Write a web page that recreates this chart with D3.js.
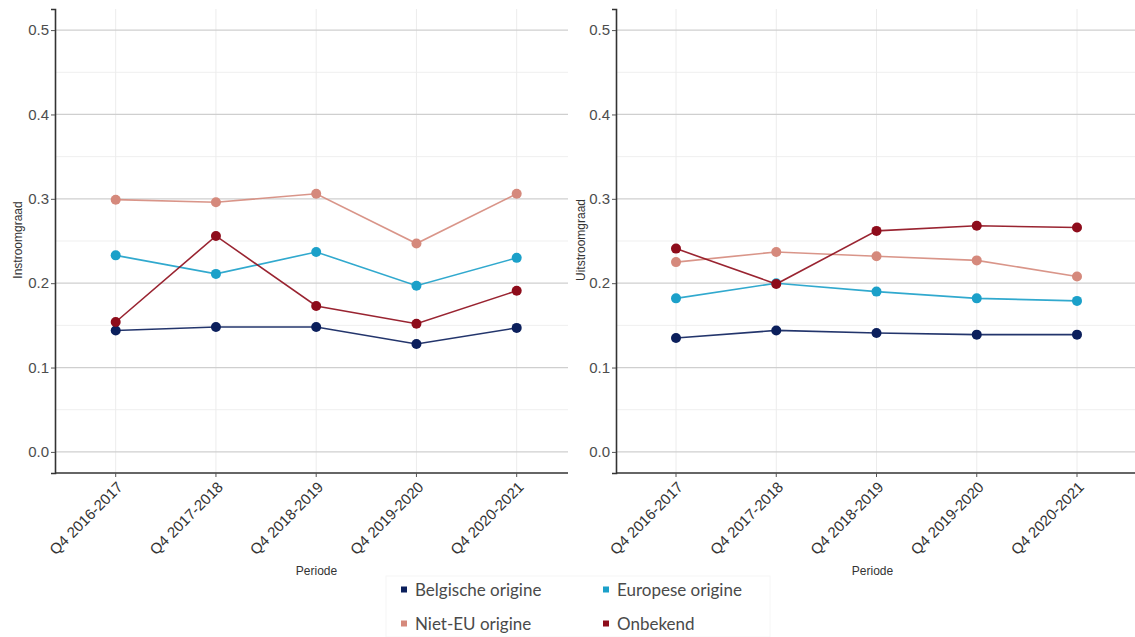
<!DOCTYPE html>
<html>
<head>
<meta charset="utf-8">
<script src="https://cdn.jsdelivr.net/npm/d3@7/dist/d3.min.js"></script>
<style>
  html, body { margin: 0; padding: 0; background: #fff; }
  svg { display: block; }
</style>
</head>
<body>
<svg id="chart" width="1135" height="637"></svg>
<script>
const periods = ["Q4 2016-2017", "Q4 2017-2018", "Q4 2018-2019", "Q4 2019-2020", "Q4 2020-2021"];
const seriesNames = ["Belgische origine", "Europese origine", "Niet-EU origine", "Onbekend"];
const seriesColors = ["#0b1f5c", "#1ba0c9", "#d5897c", "#8e0c1b"];
const yTicks = [0.0, 0.1, 0.2, 0.3, 0.4, 0.5];
const yMinorTicks = [0.05, 0.15, 0.25, 0.35, 0.45];

// Instroomgraad (left panel)
const inBelg   = [0.144, 0.148, 0.148, 0.128, 0.147];
const inEur    = [0.233, 0.211, 0.237, 0.197, 0.230];
const inNietEU = [0.299, 0.296, 0.306, 0.247, 0.306];
const inOnb    = [0.154, 0.256, 0.173, 0.152, 0.191];

// Uitstroomgraad (right panel)
const outBelg   = [0.135, 0.144, 0.141, 0.139, 0.139];
const outEur    = [0.182, 0.200, 0.190, 0.182, 0.179];
const outNietEU = [0.225, 0.237, 0.232, 0.227, 0.208];
const outOnb    = [0.241, 0.199, 0.262, 0.268, 0.266];

const svg = d3.select("#chart");
const fontMain = "'Liberation Sans', Arial, sans-serif";

const y = d3.scaleLinear().domain([-0.025, 0.525]).range([473, 9]);

const panels = [
  { left: 55, right: 568, first: 115.7, last: 516.7, ylabel: "Instroomgraad", ylabX: 18,
    data: [inBelg, inEur, inNietEU, inOnb] },
  { left: 616, right: 1135, first: 676, last: 1077, ylabel: "Uitstroomgraad", ylabX: 581,
    data: [outBelg, outEur, outNietEU, outOnb] }
];

panels.forEach(p => {
  const x = d3.scalePoint().domain(periods).range([p.first, p.last]);
  const g = svg.append("g");

  g.selectAll(".minor").data(yMinorTicks).join("line")
    .attr("x1", p.left).attr("x2", p.right)
    .attr("y1", d => y(d)).attr("y2", d => y(d))
    .attr("stroke", "#efefef").attr("stroke-width", 1);
  g.selectAll(".vgrid").data(periods).join("line")
    .attr("x1", d => x(d)).attr("x2", d => x(d))
    .attr("y1", y.range()[1]).attr("y2", y.range()[0])
    .attr("stroke", "#ececec").attr("stroke-width", 1);
  g.selectAll(".major").data(yTicks).join("line")
    .attr("x1", p.left).attr("x2", p.right)
    .attr("y1", d => y(d)).attr("y2", d => y(d))
    .attr("stroke", "#cfcfcf").attr("stroke-width", 1.3);

  const yAxis = d3.axisLeft(y).tickValues(yTicks).tickFormat(d3.format(".1f")).tickSize(4).tickPadding(2);
  const ya = g.append("g").attr("transform", `translate(${p.left},0)`).call(yAxis);
  ya.select(".domain").attr("stroke", "#333").attr("stroke-width", 1.6);
  ya.selectAll(".tick line").attr("stroke", "#555");
  ya.selectAll(".tick text").attr("fill", "#4d4d4d").style("font-size", "15px").style("font-family", fontMain);

  const xa = g.append("g").attr("transform", `translate(0,${y.range()[0]})`);
  xa.append("line").attr("x1", p.left).attr("x2", p.right).attr("y1", 0).attr("y2", 0)
    .attr("stroke", "#333").attr("stroke-width", 1.6);
  xa.selectAll(".xt").data(periods).join("line")
    .attr("x1", d => x(d)).attr("x2", d => x(d)).attr("y1", 0).attr("y2", 4)
    .attr("stroke", "#555");
  xa.selectAll(".xl").data(periods).join("text")
    .attr("transform", d => `translate(${x(d) + 8},${15}) rotate(-45)`)
    .attr("text-anchor", "end")
    .attr("fill", "#333")
    .style("font-size", "15px").style("font-family", fontMain)
    .text(d => d);

  g.append("text").attr("x", (p.left + p.right) / 2 + (p.left === 55 ? 5 : -3)).attr("y", 575)
    .attr("text-anchor", "middle").attr("fill", "#333")
    .style("font-size", "12px").style("font-family", fontMain).text("Periode");
  g.append("text").attr("transform", `translate(${p.ylabX + 4},240) rotate(-90)`)
    .attr("text-anchor", "middle").attr("fill", "#333")
    .style("font-size", "12px").style("font-family", fontMain).text(p.ylabel);

  const line = d3.line().x((d, i) => x(periods[i])).y(d => y(d));
  p.data.forEach((vals, si) => {
    g.append("path").datum(vals).attr("d", line)
      .attr("fill", "none").attr("stroke", seriesColors[si]).attr("stroke-width", 1.6).attr("opacity", 0.9);
    g.selectAll(".pt" + si).data(vals).join("circle")
      .attr("cx", (d, i) => x(periods[i])).attr("cy", d => y(d)).attr("r", 5)
      .attr("fill", seriesColors[si]);
  });
});

const lg = svg.append("g");
lg.append("rect").attr("x", 386).attr("y", 576).attr("width", 384).attr("height", 61)
  .attr("fill", "#fff").attr("stroke", "#f6f6f6");
const legPos = [[401, 590], [603, 590], [401, 624], [603, 624]];
seriesNames.forEach((n, i) => {
  const [lx, ly] = legPos[i];
  lg.append("rect").attr("x", lx).attr("y", ly - 3.5).attr("width", 6).attr("height", 6)
    .attr("fill", seriesColors[i]);
  lg.append("text").attr("x", lx + 14).attr("y", ly + 6)
    .attr("fill", "#4a4a4a").style("font-size", "17px").style("font-family", "Lato, 'Open Sans', sans-serif")
    .text(n);
});
</script>
</body>
</html>
